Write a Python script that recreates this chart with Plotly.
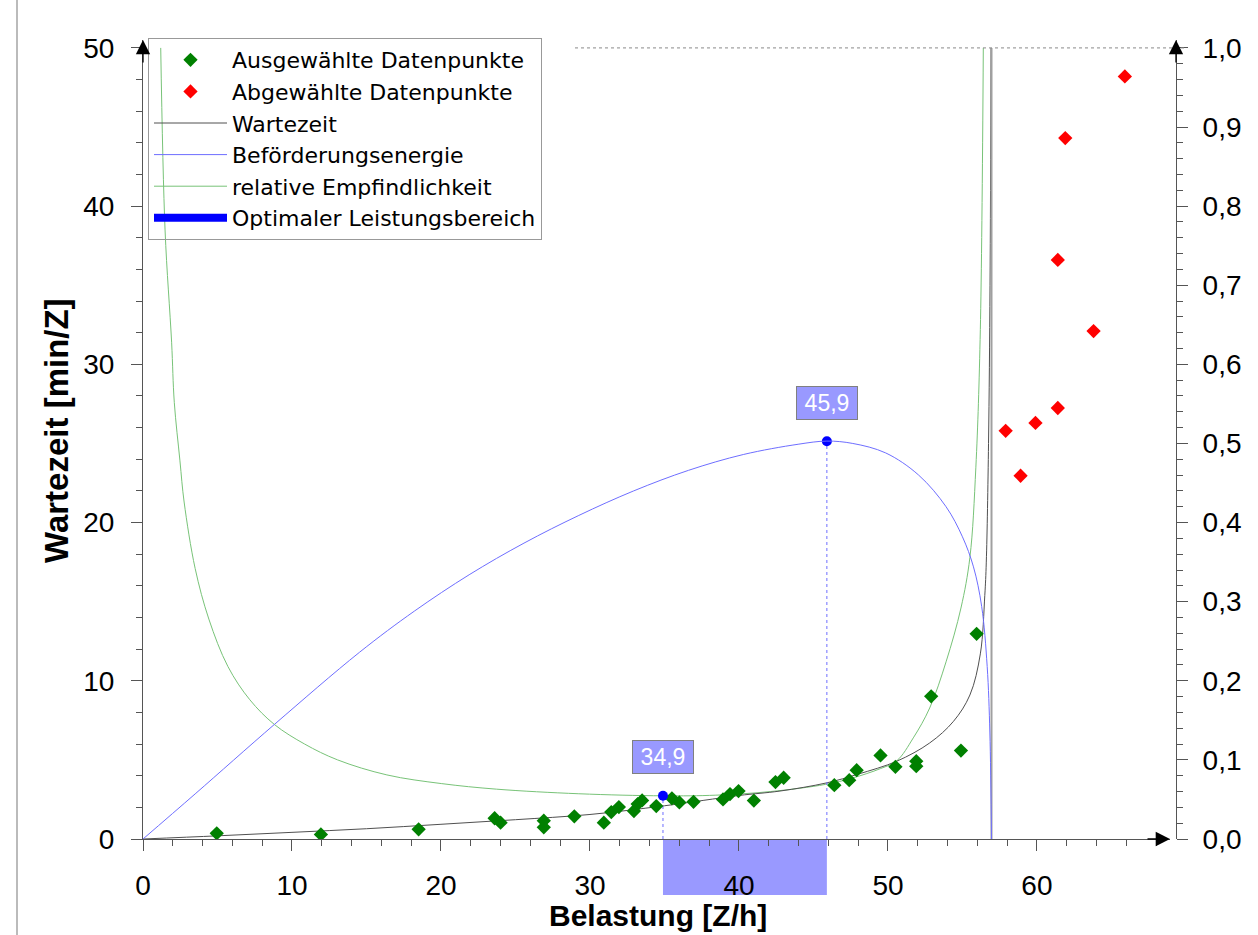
import plotly.graph_objects as go

# ---------------- data ----------------
# selected data points (Ausgewählte Datenpunkte)
green_x = [4.95, 11.94, 18.5, 23.6, 24.0, 26.9, 26.9, 28.95, 30.93, 31.43, 31.94, 32.95,
           33.2, 33.5, 34.45, 35.5, 36.0, 36.95, 38.93, 39.4, 39.97, 41.0, 42.45, 43.0,
           46.4, 47.4, 47.9, 49.5, 50.5, 51.9, 51.9, 52.9, 54.9, 55.95]
green_y = [0.36, 0.29, 0.61, 1.31, 1.03, 1.16, 0.74, 1.43, 1.03, 1.70, 2.02, 1.77,
           2.21, 2.44, 2.08, 2.57, 2.31, 2.35, 2.50, 2.84, 3.03, 2.43, 3.60, 3.87,
           3.40, 3.72, 4.35, 5.28, 4.56, 4.92, 4.60, 9.02, 5.59, 12.97]

# deselected data points (Abgewählte Datenpunkte)
red_x = [57.9, 58.9, 59.9, 61.4, 61.4, 61.9, 63.8, 65.9]
red_y = [25.8, 22.96, 26.3, 27.24, 36.6, 44.3, 32.1, 48.2]

# Wartezeit curve [min/Z]
wait_x = [0, 5, 10, 15, 20, 25, 30, 35, 40, 42.75, 45.9, 48, 50.6, 52.8, 54.4, 55.5,
          56.2, 56.5, 56.6, 56.75, 56.85, 56.92]
wait_y = [0, 0.2, 0.42, 0.65, 0.93, 1.22, 1.55, 2.1, 2.75, 3.03, 3.55, 4.1, 4.92, 6.07,
          7.44, 9.1, 11.7, 15.4, 17.5, 25, 35, 50]

# Beförderungsenergie (right axis, 0..1)
energy_x = [0, 3.5, 8.83, 14.53, 18.21, 21.89, 25.57, 29.25, 32.93, 36.61, 40.29, 43.97,
            45.9, 47.64, 49.85, 52.06, 53.9, 55.0, 55.74, 56.29, 56.66, 56.84, 56.95]
energy_y = [0, 0.057, 0.145, 0.236, 0.288, 0.334, 0.374, 0.409, 0.440, 0.466, 0.486, 0.499,
            0.503, 0.500, 0.488, 0.460, 0.420, 0.382, 0.344, 0.294, 0.218, 0.134, 0]

# relative Empfindlichkeit
sens_x = [1.19, 1.48, 1.92, 2.1, 2.48, 2.76, 3.5, 4.42, 5.7, 7.17, 8.83, 10.85, 13.06,
          16.37, 20.05, 23.73, 29.25, 34.9, 38.45, 42.13, 45.8, 47.6, 49.5, 50.6, 51.7,
          52.8, 53.9, 54.9, 55.5, 55.9, 56.2, 56.4]
sens_y = [50.0, 38.5, 31.4, 27.6, 23.9, 21.3, 17.1, 13.9, 10.9, 8.8, 7.23, 6.0, 5.0,
          4.05, 3.5, 3.15, 2.86, 2.73, 2.77, 3.0, 3.45, 3.85, 4.45, 4.95, 6.39,
          8.28, 11.2, 14.6, 17.8, 23.5, 32.2, 50.0]

# optimal range: (x, y on left axis) of the sensitivity minimum and energy maximum
opt_lo = (34.9, 2.73)
opt_hi = (45.9, 25.14)
capacity = 56.95

x_ticks_major, x_ticks_minor = 10, 2
y_ticks_major, y_ticks_minor = 10, 2

# ---------------- layout geometry ----------------
W, H = 1258, 935
ML, MR, MT, MB = 143, 78, 40, 96
PW = W - ML - MR
PH = H - MT - MB
X_MAX = 68.93
Y_MAX = 50.5
Y2_SCALE = 50.0
x_dom_end = (1170 - ML) / PW
right_pos = (1176 - ML) / PW

FONT = "Liberation Sans, Arial, sans-serif"
LEGFONT = "DejaVu Sans, Liberation Sans, Arial, sans-serif"
AXC = "#555555"


def fmt(v):
    return f"{v:.1f}".replace(".", ",")


fig = go.Figure()

fig.add_trace(go.Scatter(x=sens_x, y=sens_y, mode="lines", name="relative Empfindlichkeit",
                         line=dict(color="rgb(120,195,120)", width=1, shape="spline", smoothing=1.0),
                         legendrank=5))
fig.add_trace(go.Scatter(x=energy_x, y=energy_y, mode="lines", name="Beförderungsenergie",
                         yaxis="y2",
                         line=dict(color="rgb(110,110,255)", width=1, shape="spline", smoothing=1.0),
                         legendrank=4))
fig.add_trace(go.Scatter(x=wait_x, y=wait_y, mode="lines", name="Wartezeit",
                         line=dict(color="#505050", width=1, shape="spline", smoothing=1.0),
                         legendrank=3))
# capacity asymptote
fig.add_trace(go.Scatter(x=[capacity, capacity], y=[0, 50], mode="lines", showlegend=False,
                         line=dict(color="#A0A0A0", width=2), hoverinfo="skip"))
# dotted verticals to the optimum borders
for px_, py_ in (opt_lo, opt_hi):
    fig.add_trace(go.Scatter(x=[px_, px_], y=[0, py_], mode="lines", showlegend=False,
                             line=dict(color="rgb(110,110,255)", width=1, dash="dot"),
                             hoverinfo="skip"))

fig.add_trace(go.Scatter(x=green_x, y=green_y, mode="markers", name="Ausgewählte Datenpunkte",
                         marker=dict(symbol="diamond", size=11, color="#008000",
                                     line=dict(width=0)),
                         legendrank=1))
fig.add_trace(go.Scatter(x=red_x, y=red_y, mode="markers", name="Abgewählte Datenpunkte",
                         marker=dict(symbol="diamond", size=11, color="#FF0000",
                                     line=dict(width=0)),
                         legendrank=2))
fig.add_trace(go.Scatter(x=[opt_lo[0], opt_hi[0]], y=[opt_lo[1], opt_hi[1]], mode="markers",
                         showlegend=False,
                         marker=dict(symbol="circle", size=10, color="#0000FF")))
fig.add_trace(go.Scatter(x=[None], y=[None], mode="lines", name="Optimaler Leistungsbereich",
                         line=dict(color="#0000FF", width=8), legendrank=6))

tickfont = dict(family=FONT, size=28, color="black")

xcommon = dict(range=[0, X_MAX], tick0=0, dtick=x_ticks_major, showgrid=False,
               zeroline=False, tickcolor=AXC, tickwidth=1, ticklen=11, automargin=False)
ycommon = dict(range=[0, Y_MAX], tick0=0, dtick=y_ticks_major, showgrid=False,
               zeroline=False, tickcolor=AXC, tickwidth=1, ticklen=11, automargin=False)
y2common = dict(range=[0, Y_MAX / Y2_SCALE], tick0=0, dtick=0.1, showgrid=False,
                zeroline=False, tickcolor=AXC, tickwidth=1, ticklen=11, automargin=False)

fig.update_layout(
    width=W, height=H,
    margin=dict(l=ML, r=MR, t=MT, b=MB, pad=0),
    paper_bgcolor="white", plot_bgcolor="white",
    separators=",.",
    font=dict(family=FONT, size=20, color="black"),
    xaxis=dict(domain=[0, x_dom_end], anchor="y", ticks="outside", showline=True,
               linecolor=AXC, linewidth=1, tickfont=tickfont, ticklabelstandoff=10,
               minor=dict(dtick=x_ticks_minor, ticks="outside", ticklen=6, tickcolor=AXC),
               **xcommon),
    xaxis2=dict(overlaying="x", anchor="y", side="bottom", ticks="inside",
                showticklabels=False, showline=False,
                minor=dict(dtick=x_ticks_minor, ticks="inside", ticklen=6, tickcolor=AXC),
                **xcommon),
    yaxis=dict(anchor="x", ticks="outside", showline=True, linecolor=AXC, linewidth=1,
               tickfont=tickfont, ticklabelstandoff=11,
               minor=dict(dtick=y_ticks_minor, ticks="outside", ticklen=6, tickcolor=AXC),
               **ycommon),
    yaxis3=dict(overlaying="y", anchor="x", side="left", ticks="inside",
                showticklabels=False, showline=False,
                minor=dict(dtick=y_ticks_minor, ticks="inside", ticklen=6, tickcolor=AXC),
                **ycommon),
    yaxis2=dict(overlaying="y", anchor="free", position=right_pos, side="right",
                ticks="outside", showline=True, linecolor=AXC, linewidth=1,
                tickfont=tickfont, tickformat=".1f", ticklabelstandoff=9,
                minor=dict(dtick=0.02, ticks="outside", ticklen=6, tickcolor=AXC),
                **y2common),
    yaxis4=dict(overlaying="y", anchor="free", position=right_pos, side="right",
                ticks="inside", showticklabels=False, showline=False,
                minor=dict(dtick=0.02, ticks="inside", ticklen=6, tickcolor=AXC),
                **y2common),
    legend=dict(x=(148 - ML) / PW, y=(MT + PH - 38) / PH,
                xanchor="left", yanchor="top", bgcolor="rgba(255,255,255,0)",
                bordercolor="#999999", borderwidth=1,
                font=dict(family=LEGFONT, size=22, color="black"),
                itemwidth=73, traceorder="normal"),
    showlegend=True,
)

# optimal-range band below the x axis, the top dotted line, and the outer frame line
fig.add_shape(type="rect", xref="x", yref="paper", x0=opt_lo[0], x1=opt_hi[0],
              y0=-(895 - (MT + PH)) / PH, y1=0, fillcolor="#9999FF",
              line=dict(width=0), layer="below")
fig.add_shape(type="line", xref="paper", yref="y", x0=(575 - ML) / PW, x1=(1186 - ML) / PW,
              y0=50, y1=50, line=dict(color="#8a8a8a", width=1, dash="dot"))
fig.add_shape(type="line", xref="paper", yref="paper",
              x0=(17 - ML) / PW, x1=(17 - ML) / PW,
              y0=((MT + PH) - 945) / PH, y1=((MT + PH) + 10) / PH,
              line=dict(color="#BBBBBB", width=2))

# value labels of the optimum borders
for px_, py_, yshift in ((opt_lo[0], opt_lo[1], 22), (opt_hi[0], opt_hi[1], 21)):
    fig.add_annotation(x=px_, y=py_, xref="x", yref="y", text=fmt(px_), showarrow=False,
                       yanchor="bottom", yshift=yshift,
                       font=dict(family=FONT, size=23, color="white"),
                       bgcolor="#9999FF", bordercolor="#808080", borderwidth=1,
                       width=60, height=32, borderpad=0)

# axis titles
fig.add_annotation(text="<b>Wartezeit [min/Z]</b>", textangle=-90, showarrow=False,
                   xref="paper", yref="paper", x=(56 - ML) / PW, y=((MT + PH) - 431) / PH,
                   xanchor="center", yanchor="middle",
                   font=dict(family=FONT, size=33, color="black"))
fig.add_annotation(text="<b>Belastung [Z/h]</b>", showarrow=False,
                   xref="paper", yref="paper", x=(658 - ML) / PW, y=((MT + PH) - 915) / PH,
                   xanchor="center", yanchor="middle",
                   font=dict(family=FONT, size=30, color="black"))

# arrow heads at the axis ends
arrow = dict(text="", showarrow=True, arrowhead=2, arrowsize=2.2, arrowwidth=1.3,
             arrowcolor="black")
fig.add_annotation(xref="x", yref="paper", x=0, y=1, ax=0, ay=24, **arrow)
fig.add_annotation(xref="paper", yref="paper", x=right_pos, y=1, ax=0, ay=24, **arrow)
fig.add_annotation(xref="paper", yref="y", x=x_dom_end, y=0, ax=-24, ay=0, **arrow)

fig.write_html(
    "out.html",
    config={"displayModeBar": False},
    post_script="document.body.style.margin='0';document.body.style.padding='0';"
                "document.documentElement.style.overflow='hidden';",
)
